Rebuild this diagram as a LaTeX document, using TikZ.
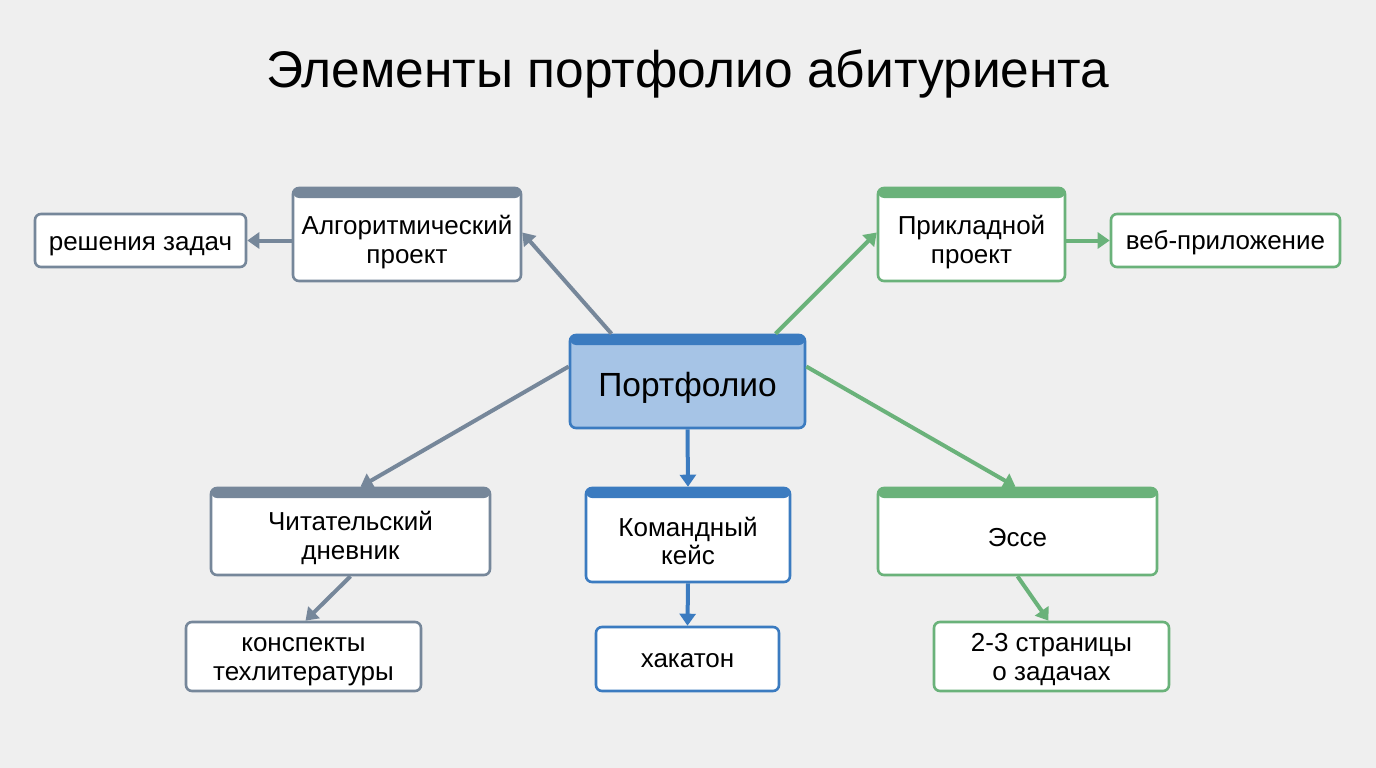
\documentclass[tikz,border=0pt]{standalone}
\usepackage{fontspec}
\setmainfont{Liberation Sans}
\usetikzlibrary{arrows.meta}
\definecolor{bg}{HTML}{EFEFEF}
\definecolor{cgray}{HTML}{76879A}
\definecolor{cblue}{HTML}{3B7BC0}
\definecolor{cgreen}{HTML}{6AB27A}
\definecolor{pfill}{HTML}{A6C4E6}
\newcommand{\lw}[2]{\raisebox{-#1pt}[\height][\depth]{\begin{tabular}{@{}c@{}}#2\end{tabular}}}
\tikzset{
  box/.style={draw=#1, line width=2.6pt, rounded corners=6pt, fill=white,
    font=\fontsize{26}{28.5}\selectfont, inner sep=0pt, align=center},
  hbox/.style={box=#1, path picture={\fill[#1] (path picture bounding box.north west) rectangle ([yshift=-10pt]path picture bounding box.north east);}},
  arr/.style={draw=#1, line width=4pt, -{Triangle[length=12pt,width=16pt]}},
}
\begin{document}
\begin{tikzpicture}[x=1pt,y=-1pt]
\fill[bg] (0,0) rectangle (1376,768);
\useasboundingbox (0,0) rectangle (1376,768);
\node (title) at (688,74) {\fontsize{51.5}{56}\selectfont Элементы портфолио абитуриента};

\node[hbox=cblue, fill=pfill, minimum width=235pt, minimum height=93pt, font=\fontsize{33.5}{38}\selectfont] (p) at (687.5,381.5) {\lw{7}{Портфолио}};

\node[hbox=cgray, minimum width=228pt, minimum height=93pt] (alg) at (407,234.5) {\lw{9}{Алгоритмический\\проект}};
\node[box=cgray, minimum width=211pt, minimum height=53pt] (res) at (140.5,240.5) {\lw{4}{решения задач}};

\node[hbox=cgreen, minimum width=187pt, minimum height=93pt] (pri) at (971.5,234.5) {\lw{9}{Прикладной\\проект}};
\node[box=cgreen, minimum width=229pt, minimum height=53pt] (web) at (1225.5,240.5) {\lw{3}{веб-приложение}};

\node[hbox=cgray, minimum width=279pt, minimum height=87pt] (cht) at (350.5,531.5) {\lw{8}{Читательский\\дневник}};
\node[box=cgray, minimum width=235pt, minimum height=69pt] (kon) at (303.5,656.5) {\lw{4}{конспекты\\техлитературы}};

\node[hbox=cblue, minimum width=204pt, minimum height=94pt] (kom) at (688,535) {\lw{10}{Командный\\кейс}};
\node[box=cblue, minimum width=183pt, minimum height=64pt] (hak) at (687.5,659) {\lw{3}{хакатон}};

\node[hbox=cgreen, minimum width=279pt, minimum height=87pt] (ess) at (1017.5,531.5) {\lw{9}{Эссе}};
\node[box=cgreen, minimum width=235pt, minimum height=69pt] (str) at (1051.5,656.5) {\lw{4}{2-3 страницы\\о задачах}};

\draw[arr=cgray] ([xshift=-76pt]p.north) -- ([yshift=2pt]alg.east);
\draw[arr=cgray] (alg.west |- res.east) -- (res.east);
\draw[arr=cgreen] ([xshift=88pt]p.north) -- ([yshift=2pt]pri.west);
\draw[arr=cgreen] (pri.east |- web.west) -- (web.west);
\draw[arr=cgray] ([yshift=15pt]p.west) -- ([xshift=10pt]cht.north);
\draw[arr=cblue] (p.south) -- (kom.north);
\draw[arr=cgreen] ([yshift=15pt]p.east) -- ([xshift=-2pt]ess.north);
\draw[arr=cgray] (cht.south) -- ([xshift=2pt]kon.north);
\draw[arr=cblue] (kom.south) -- (hak.north);
\draw[arr=cgreen] (ess.south) -- ([xshift=-3pt]str.north);
\end{tikzpicture}
\end{document}
